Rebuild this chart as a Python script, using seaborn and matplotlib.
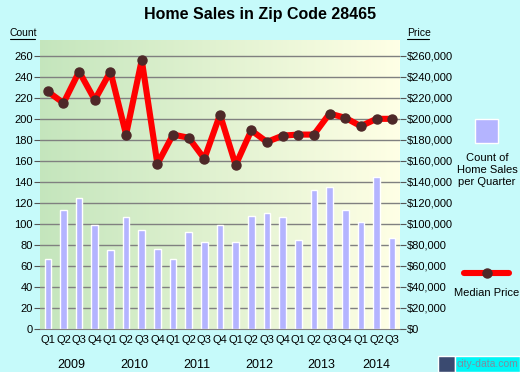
import numpy as np
import pandas as pd
import matplotlib.pyplot as plt
import seaborn as sns
from matplotlib.lines import Line2D
from matplotlib.patches import Rectangle

# дані
quarters = ["Q1", "Q2", "Q3", "Q4"] * 5 + ["Q1", "Q2", "Q3"]
years = ["2009", "2010", "2011", "2012", "2013", "2014"]
sales_count = [67, 113, 125, 99, 75, 107, 94, 76, 67, 92, 83, 99,
               83, 108, 110, 107, 85, 132, 135, 113, 102, 145, 87]
median_price = [226000, 215000, 245000, 218000, 245000, 185000, 256000, 157000,
                185000, 182000, 162000, 204000, 156000, 189000, 178000, 184000,
                185000, 185000, 205000, 201000, 193000, 200000, 200000]

df = pd.DataFrame({"idx": range(len(sales_count)), "count": sales_count,
                   "price_k": np.array(median_price) / 1000})

bg = "#C6FAFA"
sns.set_style("white")
plt.rcParams["font.family"] = ["Liberation Sans", "DejaVu Sans"]
plt.rcParams["text.color"] = "black"
plt.rcParams["xtick.labelcolor"] = "black"
plt.rcParams["ytick.labelcolor"] = "black"

fig = plt.figure(figsize=(5.2, 3.72), dpi=100, facecolor=bg)
ax = fig.add_axes([40 / 520, 43 / 372, 360 / 520, 289 / 372])
ylim = (0, 275)
n = len(sales_count)

# градієнтний фон
grad = np.linspace(0, 1, 256).reshape(1, -1)
c0 = np.array([0.77, 0.90, 0.74])
c1 = np.array([1.0, 1.0, 0.90])
img = c0[None, None, :] * (1 - grad[..., None]) + c1[None, None, :] * grad[..., None]
ax.imshow(img, extent=(-0.5, n - 0.5, ylim[0], ylim[1]), aspect="auto", zorder=0)

for y in range(20, 261, 20):
    ax.axhline(y, color="#808080", lw=1, zorder=1)

sns.barplot(data=df, x="idx", y="count", color="#B4B4FF", edgecolor="white",
            linewidth=1, width=0.42, saturation=1, ax=ax, zorder=2)
ax.plot(df["idx"], df["price_k"], color="#FF0000", lw=4.4, zorder=3,
        solid_joinstyle="round", solid_capstyle="round")
ax.plot(df["idx"], df["price_k"], "o", color="#4E2828", ms=6.5, zorder=4)

ax.set_xlim(-0.5, n - 0.5)
ax.set_ylim(*ylim)
ax.set_xlabel("")
ax.set_ylabel("")
ax.set_yticks(range(0, 261, 20))
ax.tick_params(axis="y", length=4, color="#555555", labelsize=8, pad=1)
ax.set_xticks(range(n))
ax.set_xticklabels(quarters, fontsize=8)
ax.tick_params(axis="x", length=0, pad=4)
ax.set_xticks(np.arange(-0.5, n, 1), minor=True)
ax.tick_params(axis="x", which="minor", length=4, color="#555555")
for s in ["top", "right", "left"]:
    ax.spines[s].set_visible(False)
ax.spines["bottom"].set_color("#808080")

for i, yr in enumerate(years):
    ax.text(i * 4 + 1.5 if i < 5 else 21, -34, yr, ha="center", va="center",
            fontsize=9, transform=ax.transData, clip_on=False)

ax2 = ax.twinx()
ax2.set_ylim(*ylim)
ax2.set_yticks(range(0, 261, 20))
ax2.set_yticklabels(["$0"] + [f"${v * 1000:,}" for v in range(20, 261, 20)])
ax2.tick_params(axis="y", length=4, color="#555555", labelsize=8, pad=1)
for s in ax2.spines.values():
    s.set_visible(False)

fig.text(260 / 520, 1 - 15 / 372, "Home Sales in Zip Code 28465", ha="center",
         va="center", fontsize=11.5, fontweight="bold")
fig.text(10 / 520, 1 - 33 / 372, "Count", fontsize=7.5, va="center")
fig.add_artist(Line2D([10 / 520, 35 / 520], [1 - 39 / 372] * 2, color="black", lw=0.8))
fig.text(407 / 520, 1 - 33 / 372, "Price", fontsize=7.5, va="center")
fig.add_artist(Line2D([407 / 520, 429 / 520], [1 - 39 / 372] * 2, color="black", lw=0.8))

# легенда
fig.add_artist(Rectangle((475 / 520, 1 - 143 / 372), 23 / 520, 24 / 372,
                         facecolor="#B4B4FF", edgecolor="white", lw=1,
                         transform=fig.transFigure))
fig.text(487 / 520, 1 - 170 / 372, "Count of\nHome Sales\nper Quarter",
         ha="center", va="center", fontsize=8, linespacing=1.25)
fig.add_artist(Line2D([464 / 520, 509 / 520], [1 - 273 / 372] * 2, color="#FF0000", lw=4.4))
fig.add_artist(Line2D([487 / 520], [1 - 273 / 372], marker="o", color="#4E2828", ms=6.5))
fig.text(487 / 520, 1 - 293 / 372, "Median Price", ha="center", va="center", fontsize=8)

# водяний знак
fig.add_artist(Rectangle((438 / 520, 0), 17 / 520, 16 / 372, facecolor="#3A4A70",
                         transform=fig.transFigure, zorder=1))
fig.add_artist(Rectangle((455 / 520, 0), 65 / 520, 16 / 372, facecolor="#00F5F5",
                         transform=fig.transFigure, zorder=1))
fig.text(487 / 520, 8 / 372, "city-data.com", ha="center", va="center",
         fontsize=7.5, color="#7A8EA0", zorder=10)

fig.savefig("out.png", dpi=100, facecolor=bg)
